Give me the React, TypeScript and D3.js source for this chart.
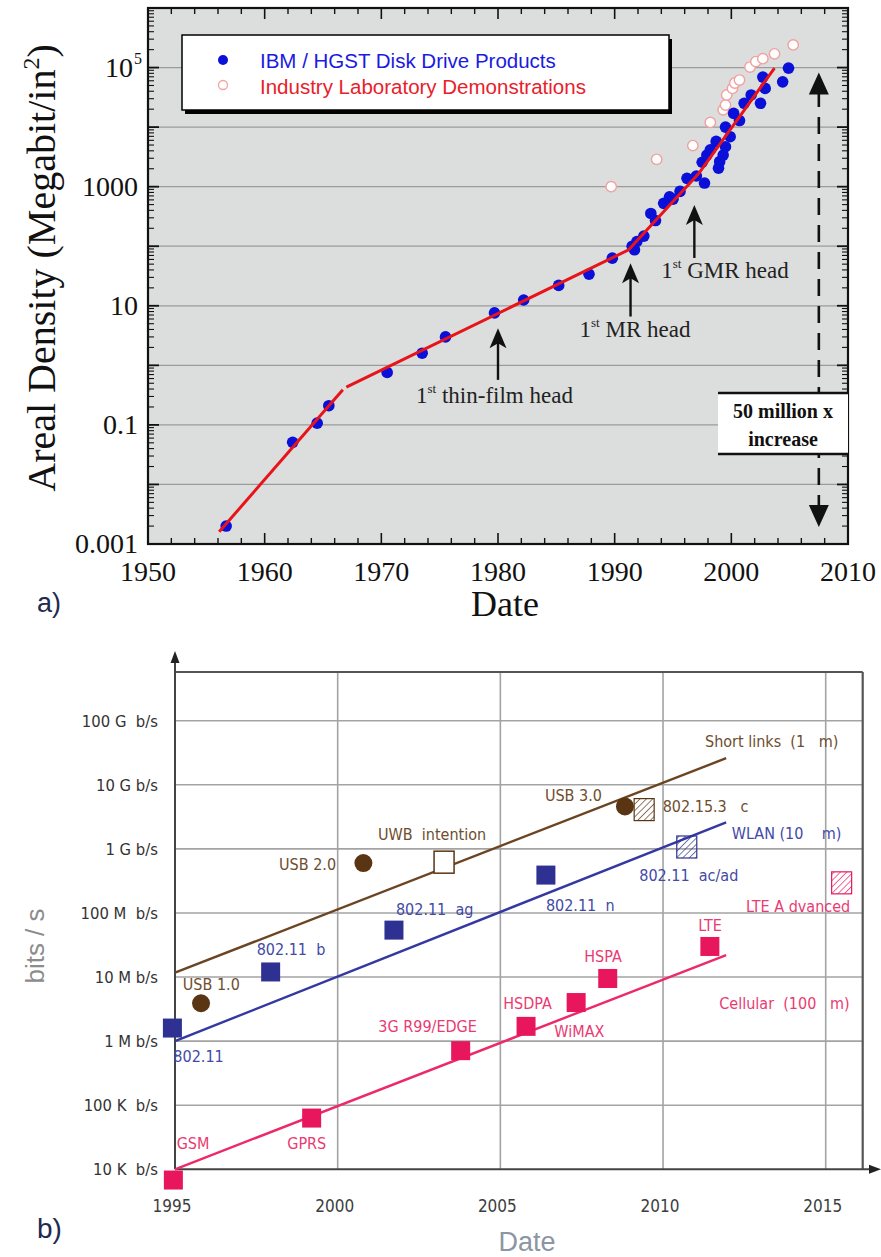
import React from "react";
import * as d3 from "d3";

// ---------- a) areal density ----------
const ibmProducts: [number, number][] = [
  [1956.7, 0.002], [1962.4, 0.051], [1964.5, 0.107], [1965.5, 0.21], [1970.5, 0.76],
  [1973.5, 1.6], [1975.5, 3.0], [1979.7, 7.6], [1982.2, 12.5], [1985.2, 22],
  [1987.8, 34], [1989.8, 63], [1991.5, 100], [1991.7, 87], [1991.9, 120],
  [1992.5, 148], [1993.1, 355], [1993.5, 270], [1994.2, 525], [1994.7, 676],
  [1995.0, 617], [1995.6, 832], [1996.2, 1380], [1997.0, 1510], [1997.7, 1150],
  [1997.5, 2570], [1997.9, 3390], [1998.2, 4170], [1998.7, 5750], [1998.9, 2040],
  [1999.0, 2630], [1999.3, 3390], [1999.5, 4680], [1999.5, 10000], [1999.9, 6900],
  [2000.2, 17000], [2000.7, 12900], [2001.1, 25100], [2001.7, 34700], [2002.5, 25100],
  [2002.9, 44700], [2002.7, 69200], [2004.4, 57500], [2004.9, 97700],
];

const labDemos: [number, number][] = [
  [1989.7, 1000], [1993.6, 2880], [1996.7, 4900], [1998.2, 12000], [1999.3, 19500],
  [1999.5, 23400], [1999.6, 34700], [2000.1, 44700], [2000.3, 55000], [2000.7, 61700],
  [2001.6, 102000], [2002.1, 126000], [2002.7, 141000], [2003.7, 170000], [2005.3, 240000],
];

const trendSegments: [number, number][][] = [
  [[1956.1, 0.0016], [1966.7, 0.39]],
  [[1967.0, 0.43], [1991.2, 87], [1997.2, 1660], [2003.7, 98000]],
];

const yearTicks = [1950, 1960, 1970, 1980, 1990, 2000, 2010];
const densityTicks = [0.001, 0.1, 10, 1000, 1e5];

const headEvents = [
  { year: 1980.0, tip: 4.2, tail: 0.57, label: " thin-film head", lx: 1979.7, ly: 0.234 },
  { year: 1991.36, tip: 52, tail: 6.6, label: " MR head", lx: 1991.74, ly: 3.0 },
  { year: 1996.83, tip: 492, tail: 63.5, label: " GMR head", lx: 1999.46, ly: 29.3 },
];

// ---------- b) data rates ----------
type Mark = { name: string; year: number; rate: number; shape: string; fam: string };
const rateMarks: Mark[] = [
  { name: "USB 1.0", year: 1995.8, rate: 3.9e6, shape: "circle", fam: "short" },
  { name: "USB 2.0", year: 2000.79, rate: 6.0e8, shape: "circle", fam: "short" },
  { name: "USB 3.0", year: 2008.83, rate: 4.6e9, shape: "circle", fam: "short" },
  { name: "UWB intention", year: 2003.27, rate: 6.2e8, shape: "open", fam: "short" },
  { name: "802.15.3c", year: 2009.42, rate: 4.1e9, shape: "hatch", fam: "short" },
  { name: "802.11", year: 1994.92, rate: 1.6e6, shape: "square", fam: "wlan" },
  { name: "802.11b", year: 1997.94, rate: 1.2e7, shape: "square", fam: "wlan" },
  { name: "802.11ag", year: 2001.73, rate: 5.4e7, shape: "square", fam: "wlan" },
  { name: "802.11n", year: 2006.4, rate: 3.9e8, shape: "square", fam: "wlan" },
  { name: "802.11ac/ad", year: 2010.73, rate: 1.07e9, shape: "hatch", fam: "wlan" },
  { name: "GSM", year: 1994.95, rate: 6.8e3, shape: "square", fam: "cell" },
  { name: "GPRS", year: 1999.2, rate: 6.3e4, shape: "square", fam: "cell" },
  { name: "3G", year: 2003.78, rate: 7.1e5, shape: "square", fam: "cell" },
  { name: "HSDPA", year: 2005.79, rate: 1.7e6, shape: "square", fam: "cell" },
  { name: "WiMAX", year: 2007.33, rate: 4.0e6, shape: "square", fam: "cell" },
  { name: "HSPA", year: 2008.3, rate: 9.5e6, shape: "square", fam: "cell" },
  { name: "LTE", year: 2011.44, rate: 3.0e7, shape: "square", fam: "cell" },
  { name: "LTE Advanced", year: 2015.49, rate: 2.95e8, shape: "hatch", fam: "cell" },
];

const rateTrends: { fam: string; pts: [number, number][] }[] = [
  { fam: "short", pts: [[1995, 1.17e7], [2011.94, 2.6e10]] },
  { fam: "wlan", pts: [[1995, 1.0e6], [2011.94, 2.6e9]] },
  { fam: "cell", pts: [[1995, 1e4], [2011.94, 2.2e7]] },
];

const rateLabels: { text: string; year: number; rate: number; fam: string; anchor?: string }[] = [
  { text: "Short links  (1   m)", year: 2011.29, rate: 3.9e10, fam: "short" },
  { text: "USB 3.0", year: 2006.37, rate: 5.5e9, fam: "short" },
  { text: "802.15.3   c", year: 2009.99, rate: 3.8e9, fam: "short" },
  { text: "WLAN (10    m)", year: 2012.11, rate: 1.45e9, fam: "wlan" },
  { text: "UWB  intention", year: 2001.24, rate: 1.38e9, fam: "short" },
  { text: "USB 2.0", year: 1999.95, rate: 4.7e8, fam: "short", anchor: "end" },
  { text: "802.11  ac/ad", year: 2009.27, rate: 3.2e8, fam: "wlan" },
  { text: "LTE A dvanced", year: 2012.55, rate: 1.05e8, fam: "cell" },
  { text: "802.11  ag", year: 2001.79, rate: 9.3e7, fam: "wlan" },
  { text: "802.11  n", year: 2006.4, rate: 1.07e8, fam: "wlan" },
  { text: "LTE", year: 2011.08, rate: 5.2e7, fam: "cell" },
  { text: "802.11  b", year: 1997.51, rate: 2.2e7, fam: "wlan" },
  { text: "HSPA", year: 2007.58, rate: 1.74e7, fam: "cell" },
  { text: "USB 1.0", year: 1995.24, rate: 6.3e6, fam: "short" },
  { text: "Cellular  (100   m)", year: 2011.73, rate: 3.2e6, fam: "cell" },
  { text: "HSDPA", year: 2005.09, rate: 3.2e6, fam: "cell" },
  { text: "3G R99/EDGE", year: 2001.25, rate: 1.4e6, fam: "cell" },
  { text: "WiMAX", year: 2006.66, rate: 1.15e6, fam: "cell" },
  { text: "802.11", year: 1994.95, rate: 4.8e5, fam: "wlan" },
  { text: "GSM", year: 1995.05, rate: 2.1e4, fam: "cell" },
  { text: "GPRS", year: 1998.45, rate: 2.1e4, fam: "cell" },
];

const rateTicks = [1e4, 1e5, 1e6, 1e7, 1e8, 1e9, 1e10, 1e11];
const rateTickLabels = ["10 K  b/s", "100 K  b/s", "1 M b/s", "10 M b/s", "100 M  b/s", "1 G b/s", "10 G b/s", "100 G  b/s"];
const dateTicks = [1995, 2000, 2005, 2010, 2015];

const famMarker: Record<string, string> = { short: "#5a3513", wlan: "#2e3192", cell: "#e8175d" };
const famLine: Record<string, string> = { short: "#6b4522", wlan: "#3438a0", cell: "#ec2a68" };
const famText: Record<string, string> = { short: "#6e4d2e", wlan: "#434aa6", cell: "#ea3a72" };

const serif = "'Liberation Serif', 'Times New Roman', serif";
const sans = "'Liberation Sans', Arial, sans-serif";
const narrow = "'Liberation Sans Narrow', 'DejaVu Sans Condensed', 'Roboto', sans-serif";

function DensityChart() {
  const x = d3.scaleLinear().domain([1950, 2010]).range([148, 848]);
  const y = d3.scaleLog().domain([1e-3, 1e6]).range([544, 8]);
  const line = d3.line<[number, number]>().x(d => x(d[0])).y(d => y(d[1]));
  const decades = d3.range(-3, 7).map(e => Math.pow(10, e));
  const minors: number[] = [];
  decades.slice(0, -1).forEach(d => { for (let k = 2; k <= 9; k++) minors.push(d * k); });
  const minorYears = d3.range(1952, 2010, 2).filter(v => v % 10 !== 0);
  const [x0, x1] = x.range();
  const [yb, yt] = y.range();
  const arrowX = x(2007.5);

  return (
    <g>
      <rect x={x0} y={yt} width={x1 - x0} height={yb - yt} fill="#dcdedd" />
      {decades.map(d => (
        <line key={d} x1={x0} x2={x1} y1={y(d)} y2={y(d)} stroke="#9a9c9b" strokeWidth={1.2} />
      ))}
      {/* ticks */}
      {yearTicks.map(v => (
        <g key={v}>
          <line x1={x(v)} x2={x(v)} y1={yb} y2={yb - 11} stroke="#111" strokeWidth={1.6} />
          <line x1={x(v)} x2={x(v)} y1={yt} y2={yt + 11} stroke="#111" strokeWidth={1.6} />
          <text x={x(v)} y={581} textAnchor="middle" fontFamily={serif} fontSize={28} fill="#111">{v}</text>
        </g>
      ))}
      {minorYears.map(v => (
        <g key={v}>
          <line x1={x(v)} x2={x(v)} y1={yb} y2={yb - 6} stroke="#111" strokeWidth={1.4} />
          <line x1={x(v)} x2={x(v)} y1={yt} y2={yt + 6} stroke="#111" strokeWidth={1.4} />
        </g>
      ))}
      {decades.map(d => (
        <g key={d}>
          <line x1={x0} x2={x0 + 11} y1={y(d)} y2={y(d)} stroke="#111" strokeWidth={1.8} />
          <line x1={x1} x2={x1 - 11} y1={y(d)} y2={y(d)} stroke="#111" strokeWidth={1.8} />
        </g>
      ))}
      {minors.map(d => (
        <g key={d}>
          <line x1={x0} x2={x0 + 6} y1={y(d)} y2={y(d)} stroke="#111" strokeWidth={1.1} />
          <line x1={x1} x2={x1 - 6} y1={y(d)} y2={y(d)} stroke="#111" strokeWidth={1.1} />
        </g>
      ))}
      {densityTicks.map(d => (
        <text key={d} x={d === 1e5 ? 133 : 138} y={y(d) + 9} textAnchor="end" fontFamily={serif} fontSize={28} fill="#111">
          {d === 1e5 ? "10" : d3.format("~")(d)}
        </text>
      ))}
      <text x={134} y={y(1e5) - 4} fontFamily={serif} fontSize={16} fill="#111">5</text>
      <rect x={x0} y={yt} width={x1 - x0} height={yb - yt} fill="none" stroke="#111" strokeWidth={2.2} />

      {/* legend */}
      <rect x={185} y={39} width={487} height={75} fill="#000" />
      <rect x={182} y={35} width={487} height={75} fill="#fff" stroke="#000" strokeWidth={1.5} />
      <circle cx={223} cy={60} r={5} fill="#0a10d8" />
      <circle cx={223} cy={85} r={4.5} fill="#fff" stroke="#f2a2a2" strokeWidth={1.3} />
      <text x={260} y={68} fontFamily={sans} fontSize={20.5} fill="#1a1ae0">IBM / HGST Disk Drive Products</text>
      <text x={260} y={94} fontFamily={sans} fontSize={20.5} fill="#e8202a">Industry Laboratory Demonstrations</text>

      {/* marks */}
      {labDemos.map((d, i) => (
        <circle key={i} cx={x(d[0])} cy={y(d[1])} r={5.2} fill="#fff" stroke="#f0a0a0" strokeWidth={1.4} />
      ))}
      {ibmProducts.map((d, i) => (
        <circle key={i} cx={x(d[0])} cy={y(d[1])} r={5.8} fill="#0a10d8" />
      ))}
      {trendSegments.map((s, i) => (
        <path key={i} d={line(s) || ""} fill="none" stroke="#e8141b" strokeWidth={3} />
      ))}

      {/* head annotations */}
      {headEvents.map(h => (
        <g key={h.label}>
          <line x1={x(h.year)} x2={x(h.year)} y1={y(h.tail)} y2={y(h.tip) + 14} stroke="#111" strokeWidth={2.4} />
          <path d={`M${x(h.year)},${y(h.tip)} l-8.5,20 l8.5,-5 l8.5,5 z`} fill="#111" />
          <text x={x(h.lx)} y={y(h.ly)} textAnchor="middle" fontFamily={serif} fontSize={23} fill="#222">
            <tspan>1</tspan>
            <tspan dy={-10} fontSize={13}>st</tspan>
            <tspan dy={10}>{h.label}</tspan>
          </text>
        </g>
      ))}

      {/* 50 million x */}
      <line x1={arrowX} x2={arrowX} y1={90} y2={505} stroke="#111" strokeWidth={2.6} strokeDasharray="17 10" />
      <path d={`M${arrowX},${y(1e5) + 5} l-10,22 h20 z`} fill="#111" />
      <path d={`M${arrowX},${yb - 17} l-10,-22 h20 z`} fill="#111" />
      <rect x={718} y={393} width={130} height={61} fill="#fff" />
      <line x1={718} x2={848} y1={393} y2={393} stroke="#111" strokeWidth={2.6} />
      <line x1={718} x2={848} y1={454} y2={454} stroke="#111" strokeWidth={2.6} />
      <text x={783} y={418} textAnchor="middle" fontFamily={serif} fontWeight="bold" fontSize={20} fill="#111">50 million x</text>
      <text x={783} y={446} textAnchor="middle" fontFamily={serif} fontWeight="bold" fontSize={20} fill="#111">increase</text>

      {/* axis titles */}
      <text transform="translate(55,268) rotate(-90)" textAnchor="middle" fontFamily={serif} fontSize={40} fill="#111">
        Areal Density (Megabit/in<tspan dy={-16} fontSize={24}>2</tspan><tspan dy={16}>)</tspan>
      </text>
      <text x={505} y={616} textAnchor="middle" fontFamily={serif} fontSize={36} fill="#111">Date</text>
      <text x={37} y={612} fontFamily={sans} fontSize={27} fill="#1e2a50">a)</text>
    </g>
  );
}

function RateChart() {
  const x = d3.scaleLinear().domain([1995, 2015]).range([175, 825.7]);
  const y = d3.scaleLog().domain([1e4, 1e11]).range([1169.3, 720.7]);
  const line = d3.line<[number, number]>().x(d => x(d[0])).y(d => y(d[1]));
  const left = x(1995);
  const right = 862.7;
  const top = 672;
  const bottom = y(1e4);
  const sq = 19;

  return (
    <g>
      <defs>
        {Object.keys(famMarker).map(f => (
          <pattern key={f} id={`hatch-${f}`} width={4.5} height={4.5} patternUnits="userSpaceOnUse" patternTransform="rotate(45)">
            <line x1={0} y1={0} x2={0} y2={4.5} stroke={famMarker[f]} strokeWidth={1.3} />
          </pattern>
        ))}
      </defs>
      {rateTicks.slice(1).map(v => (
        <line key={v} x1={left} x2={right} y1={y(v)} y2={y(v)} stroke="#a3a3a3" strokeWidth={1.6} />
      ))}
      {dateTicks.slice(1).map(v => (
        <line key={v} x1={x(v)} x2={x(v)} y1={top} y2={bottom} stroke="#a3a3a3" strokeWidth={1.6} />
      ))}
      <line x1={left} x2={right} y1={top} y2={top} stroke="#555" strokeWidth={2} />
      <line x1={right} x2={right} y1={top} y2={bottom} stroke="#555" strokeWidth={2.2} />
      <line x1={left} x2={left} y1={bottom} y2={658} stroke="#444" strokeWidth={2} />
      <path d={`M${left},651 l-4.5,12 h9 z`} fill="#222" />
      <line x1={left} x2={874} y1={bottom} y2={bottom} stroke="#444" strokeWidth={2} />
      <path d={`M881,${bottom} l-12,-4.5 v9 z`} fill="#222" />

      {rateTicks.map((v, i) => (
        <text key={v} x={158} y={y(v) + 6} textAnchor="end" fontFamily={narrow} fontSize={16.5} fill="#333" style={{ whiteSpace: "pre" }}>
          {rateTickLabels[i]}
        </text>
      ))}
      {dateTicks.map(v => (
        <text key={v} x={x(v) - 3} y={1212} textAnchor="middle" fontFamily={narrow} fontSize={17} fill="#3d3d3d">{v}</text>
      ))}

      {rateTrends.map(t => (
        <path key={t.fam} d={line(t.pts) || ""} fill="none" stroke={famLine[t.fam]} strokeWidth={2.4} />
      ))}

      {rateMarks.map(m => {
        const cx = x(m.year), cy = y(m.rate), c = famMarker[m.fam];
        if (m.shape === "circle") return <circle key={m.name} cx={cx} cy={cy} r={9} fill={c} />;
        if (m.shape === "open")
          return <rect key={m.name} x={cx - 10} y={cy - 11} width={20} height={22} fill="#fff" stroke={c} strokeWidth={1.5} />;
        if (m.shape === "hatch")
          return <rect key={m.name} x={cx - 10} y={cy - 11} width={20} height={22} fill={`url(#hatch-${m.fam})`} stroke={c} strokeWidth={1.2} />;
        return <rect key={m.name} x={cx - sq / 2} y={cy - sq / 2} width={sq} height={sq} fill={c} />;
      })}

      {rateLabels.map(l => (
        <text key={l.text} x={x(l.year)} y={y(l.rate)} textAnchor={l.anchor || "start"} fontFamily={narrow} fontSize={16}
          fill={famText[l.fam]} style={{ whiteSpace: "pre" }}>
          {l.text}
        </text>
      ))}

      <text transform="translate(44,946) rotate(-90)" textAnchor="middle" fontFamily={sans} fontSize={26} fill="#8c8c8c">bits / s</text>
      <text x={527} y={1251} textAnchor="middle" fontFamily={sans} fontSize={27} fill="#8c95a3">Date</text>
      <text x={37} y={1238} fontFamily={sans} fontSize={28} fill="#1e2a50">b)</text>
    </g>
  );
}

export default function App() {
  return (
    <svg width={881} height={1257} style={{ position: "absolute", left: 0, top: 0, background: "#fff" }}>
      <rect width={881} height={1257} fill="#fff" />
      <DensityChart />
      <RateChart />
    </svg>
  );
}
